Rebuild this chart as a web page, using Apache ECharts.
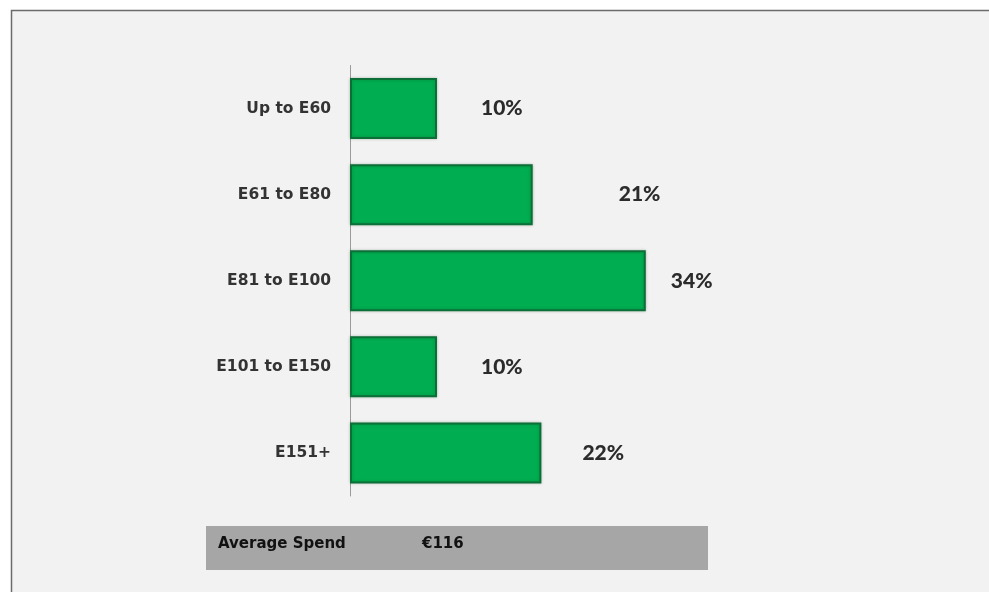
<!DOCTYPE html>
<html>
<head>
<meta charset="utf-8">
<script src="https://cdn.jsdelivr.net/npm/echarts@6/dist/echarts.min.js"></script>
<style>
  html, body { margin: 0; padding: 0; background: #ffffff; }
  #chart { width: 989px; height: 592px; }
</style>
</head>
<body>
<div id="chart"></div>
<script>
// Spend bands and share of respondents (%)
const categories = ['Up to E60', 'E61 to E80', 'E81 to E100', 'E101 to E150', 'E151+'];
const shares = [10, 21, 34, 10, 22];
const averageSpend = 116;
const averageLabel = 'Average Spend';

// Gap (px) between each bar end and its value label
const labelGaps = [44, 86, 25, 44, 41];

const chart = echarts.init(document.getElementById('chart'), null, { renderer: 'canvas' });

const option = {
  animation: false,
  backgroundColor: '#ffffff',
  grid: { left: 350, top: 65.5, width: 522, height: 430.5, containLabel: false },
  xAxis: {
    type: 'value', min: 0, max: 60, show: false
  },
  yAxis: {
    type: 'category',
    data: categories,
    inverse: true,
    axisLine: { show: true, lineStyle: { color: '#9a9a9a', width: 1 } },
    axisTick: { show: false },
    axisLabel: {
      margin: 19,
      color: '#333333',
      fontFamily: '"DejaVu Sans", sans-serif',
      fontWeight: 'bold',
      fontSize: 15.5
    }
  },
  series: [{
    type: 'bar',
    barWidth: 61,
    data: shares.map((v, i) => ({
      value: v,
      label: { distance: labelGaps[i] }
    })),
    itemStyle: {
      color: '#00ad50',
      borderColor: '#0c6f38',
      borderWidth: 2,
      shadowColor: 'rgba(0,60,20,0.25)',
      shadowBlur: 3
    },
    label: {
      show: true,
      position: 'right',
      formatter: '{c}%',
      color: '#2b2b2b',
      fontFamily: 'Lato, "Open Sans", sans-serif',
      fontWeight: 900,
      fontSize: 21
    }
  }],
  graphic: [
    // panel background and frame
    { type: 'rect', z: -10, shape: { x: 11, y: 10, width: 990, height: 600 },
      style: { fill: '#f2f2f2' } },
    { type: 'polyline', z: -9, shape: { points: [[11.5, 600], [11.5, 10.5], [995, 10.5]] },
      style: { fill: null, stroke: '#6b6b6b', lineWidth: 1.5 } },
    // average spend box
    { type: 'rect', z: 5, shape: { x: 206, y: 526, width: 502, height: 44 },
      style: { fill: '#a6a6a6' } },
    { type: 'text', z: 6, left: 218, top: 537,
      style: { text: averageLabel, fill: '#111111', fontFamily: '"DejaVu Sans", sans-serif',
               fontWeight: 'bold', fontSize: 15 } },
    { type: 'text', z: 6, left: 422, top: 537,
      style: { text: '€' + averageSpend, fill: '#111111', fontFamily: '"DejaVu Sans", sans-serif',
               fontWeight: 'bold', fontSize: 15 } }
  ]
};

chart.setOption(option);
</script>
</body>
</html>
